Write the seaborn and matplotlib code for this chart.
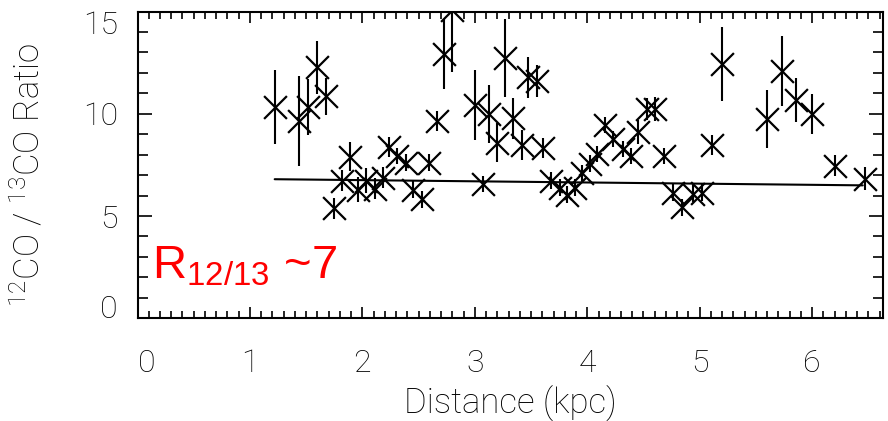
import matplotlib
matplotlib.use("Agg")
import matplotlib.pyplot as plt
from matplotlib.ticker import MultipleLocator
import seaborn as sns
import pandas as pd

# Distance (kpc)
distance = [1.22, 1.44, 1.52, 1.60, 1.68, 1.75, 1.82, 1.89, 1.96, 2.03,
            2.11, 2.18, 2.24, 2.31, 2.39, 2.45, 2.53, 2.59, 2.66, 2.73,
            2.80, 3.00, 3.07, 3.13, 3.20, 3.27, 3.34, 3.47, 3.55, 3.42,
            3.61, 3.68, 3.76, 3.82, 3.89, 3.95, 4.02, 4.09, 4.16, 4.23,
            4.32, 4.39, 4.45, 4.53, 4.60, 4.68, 4.76, 4.84, 4.94, 5.02,
            5.11, 5.20, 5.60, 5.73, 5.86, 6.00, 6.20, 6.47]
# 12CO / 13CO ratio
ratio = [10.33, 9.64, 10.33, 12.28, 10.86, 5.37, 6.73, 7.90, 6.29, 6.73,
         6.34, 6.88, 8.38, 7.95, 7.61, 6.29, 5.81, 7.61, 9.65, 12.91,
         15.05, 10.43, 6.58, 9.99, 8.58, 12.72, 9.79, 11.79, 11.60, 8.48,
         8.33, 6.73, 6.39, 6.05, 6.39, 7.10, 7.56, 8.04, 9.46, 8.77,
         8.29, 7.95, 9.11, 10.23, 10.23, 7.95, 6.15, 5.42, 6.10, 6.15,
         8.48, 12.42, 9.74, 12.08, 10.67, 9.99, 7.46, 6.83]
# error on ratio
ratio_err = [1.8, 2.2, 1.35, 1.3, 0.9, 0.5, 0.5, 0.7, 0.6, 0.6,
             0.5, 0.5, 0.5, 0.4, 0.4, 0.4, 0.4, 0.4, 0.5, 1.7,
             3.0, 1.7, 0.4, 1.4, 0.95, 1.9, 1.0, 1.0, 0.8, 0.75,
             0.5, 0.4, 0.4, 0.4, 0.4, 0.4, 0.4, 0.4, 0.4, 0.4,
             0.4, 0.4, 0.6, 0.55, 0.6, 0.4, 0.4, 0.4, 0.4, 0.4,
             0.5, 1.8, 1.4, 1.7, 1.07, 0.97, 0.5, 0.55]
# linear fit
fit_x = [1.22, 6.45]
fit_y = [6.80, 6.50]

x_ticks = [0, 1, 2, 3, 4, 5, 6]
y_ticks = [0, 5, 10, 15]

df = pd.DataFrame({"distance": distance, "ratio": ratio, "err": ratio_err})
fit_df = pd.DataFrame({"x": fit_x, "y": fit_y})

sns.set_theme(style="ticks")
plt.rcParams["font.family"] = ["Roboto", "DejaVu Sans"]
plt.rcParams["mathtext.default"] = "regular"
for k in ["text.color", "axes.labelcolor", "xtick.color", "ytick.color",
          "xtick.labelcolor", "ytick.labelcolor"]:
    plt.rcParams[k] = "black"

fig = plt.figure(figsize=(8.88, 4.21), dpi=100)
ax = fig.add_axes([137.5 / 888, 1 - 318.3 / 421, (883 - 137.5) / 888, (318.3 - 11.5) / 421])

ax.errorbar(df["distance"], df["ratio"], yerr=df["err"], fmt="none",
            ecolor="black", elinewidth=1.5, capsize=0, zorder=2)
sns.scatterplot(data=df, x="distance", y="ratio", marker="x", s=270,
                color="black", linewidth=1.6, ax=ax, zorder=3, clip_on=True)
sns.lineplot(data=fit_df, x="x", y="y", color="black", linewidth=1.5, ax=ax, zorder=2)

ax.set_xlim(0, 6.63)
ax.set_ylim(0, 15)
ax.set_xticks(x_ticks)
ax.set_yticks(y_ticks)
ax.xaxis.set_minor_locator(MultipleLocator(0.1))
ax.yaxis.set_minor_locator(MultipleLocator(1))
ax.tick_params(axis="both", which="both", direction="in", top=True, right=True,
               color="black", width=1.2)
ax.tick_params(axis="x", which="major", length=8, labelsize=23, pad=22)
ax.tick_params(axis="x", which="minor", length=5)
ax.tick_params(axis="y", which="major", length=10, labelsize=23, pad=14)
ax.tick_params(axis="y", which="minor", length=7)
for s in ax.spines.values():
    s.set_linewidth(1.5)
    s.set_color("black")

ax.set_xticklabels([str(v) for v in x_ticks], fontweight="light")
ax.set_yticklabels([str(v) for v in y_ticks], fontweight="light")
ylabs = ax.get_yticklabels()
ylabs[0].set_va("baseline")
ylabs[-1].set_va("top")
ax.get_xticklabels()[0].set_ha("left")

ax.set_xlabel("Distance (kpc)", fontsize=25, fontweight="light", labelpad=6)
ax.set_ylabel("$^{12}$CO / $^{13}$CO Ratio", fontsize=25, fontweight="light")
ax.yaxis.set_label_coords((46 - 137.5) / 745.5, (318.3 - 175) / 306.8)

ax.text(0.13, 1.96, "R$_{12/13}$ ~7", color="#ff0000", fontsize=34,
        family=["Liberation Sans", "DejaVu Sans"], ha="left", va="baseline")

fig.savefig("out.png", dpi=100)
